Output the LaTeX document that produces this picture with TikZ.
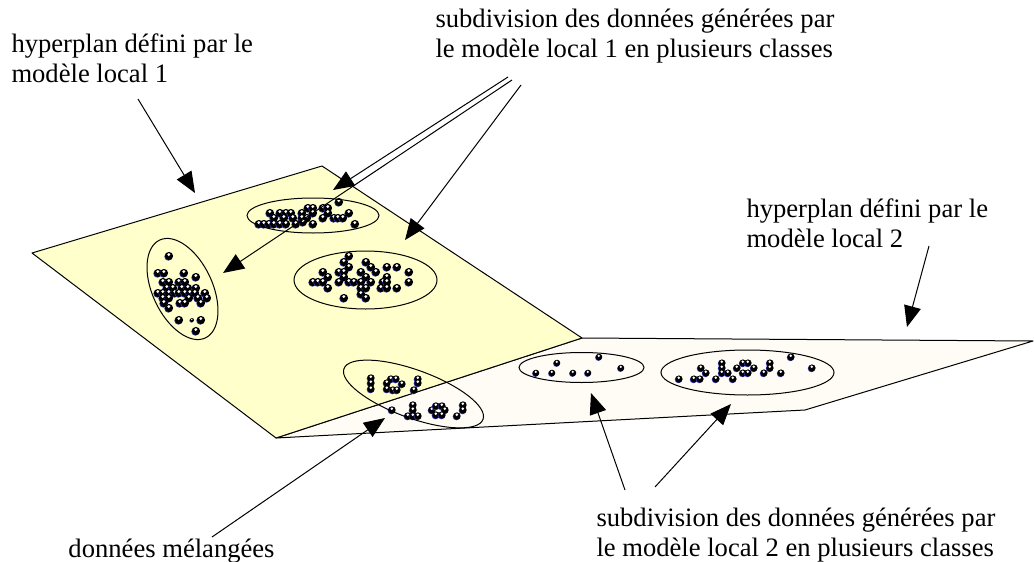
\documentclass[tikz,border=0pt]{standalone}
\usepackage{fontspec}
\setmainfont{Liberation Serif}
\usetikzlibrary{arrows.meta}
\definecolor{planeyellow}{RGB}{255,255,204}
\definecolor{planewhite}{RGB}{255,252,246}
\definecolor{dotfringe}{RGB}{50,50,170}
% one cluster of data points: #1 radius, #2 list of points
\newcommand{\ballcluster}[2]{%
  \foreach \p in {#2} {%
    \fill[dotfringe] \p ++(-0.6,0.6) circle (#1);
    \fill[black] \p circle (#1);
    \fill[white] \p ++(-0.2,-0.35*#1) circle (0.38*#1);
  }}

\begin{document}
\begin{tikzpicture}[x=0.5pt, y=-0.5pt, line width=0.5pt,
    every node/.style={font=\fontsize{13.3}{14.8}\selectfont, inner sep=0pt, align=left},
    plane/.style={draw=black, line join=round},
    cluster/.style={draw=black},
    pointer/.style={-{Triangle[length=10.5pt, width=8.5pt]}}]
      \useasboundingbox (0,0) rectangle (1034,562);
      % plane of local model 2
      \draw[plane, fill=planewhite] (276,438) -- (582,338) -- (1033,341) -- (805,410) -- cycle;
      % plane of local model 1
      \draw[plane, fill=planeyellow] (32,253) -- (322,166) -- (582,338) -- (276,438) -- cycle;
      % classes of local model 1
      \ballcluster{4.1}{(169,256),(158,273),(164,273),(184,273),(196,277),(163,282),(169,282),(179,282),(185,282),
          (167,288),(173,288),(182,288),(188,288),(196,288),(158,293),(163,293),(169,293),(175,293),(179,293),
          (185,293),(190,293),(195,293),(205,293),(163,298),(169,298),(189,298),(198,298),(207,298),(164,303),
          (180,303),(185,303),(201,303),(169,308),(179,320),(201,320),(196,331)}
      \ballcluster{2}{(192,320)}
      \ballcluster{4.1}{(339,202),(308,208),(313,208),(323,208),(328,208),(270,213),(280,213),(286,213),(291,213),
          (302,213),(313,213),(328,213),(349,213),(274,218),(284,218),(293,218),(302,218),(307,218),(323,218),
          (334,218),(338,218),(343,218),(259,224),(264,224),(269,224),(274,224),(280,224),(286,224),(296,224),
          (303,222),(313,224),(355,224)}
      \ballcluster{4.1}{(349,256),(344,262),(366,262),(349,267),(371,267),(387,267),(397,267),(323,272),(339,272),
          (344,272),(361,272),(376,272),(409,272),(328,277),(344,277),(366,277),(387,277),(313,282),(318,282),
          (323,282),(339,282),(349,282),(354,282),(361,282),(371,282),(383,282),(387,282),(409,282),(328,288),
          (361,288),(366,288),(381,288),(387,288),(397,288),(361,294),(344,298),(366,298)}
      \draw[cluster] (182.5,289) ellipse [x radius=54, y radius=30, rotate=-65];
      \draw[cluster] (313,215.5) ellipse [x radius=66, y radius=17.5];
      \draw[cluster] (365.5,280) ellipse [x radius=71.5, y radius=29];
      % mixed data
      \ballcluster{3.7}{(371,378),(371,383),(371,389),(391,379),(396,379),(387,383),(402,384),(387,389),(393,390),
          (397,390),(418,379),(418,383),(414,390),(392,410),(413,405),(413,410),(408,416),(413,416),(418,416),
          (432,410),(436,406),(442,406),(445,410),(436,415),(442,415),(463,405),(463,410),(457,416)}
      \draw[cluster] (413.5,394) ellipse [x radius=74, y radius=24, rotate=-20];
      % classes of local model 2
      \ballcluster{3.3}{(557,363),(599,357),(621,368),(536,373),(552,373),(573,373),(588,373)}
      \ballcluster{3.6}{(679,379),(694,379),(700,379),(716,379),(733,379),(701,368),(706,373),(722,363),(722,368),
          (722,373),(728,373),(737,368),(743,363),(748,363),(743,373),(748,373),(754,368),(764,373),(770,363),
          (770,368),(781,373),(791,357),(812,368)}
      \draw[cluster] (581.5,367.5) ellipse [x radius=62.5, y radius=15];
      \draw[cluster] (747.5,372.5) ellipse [x radius=86.5, y radius=22.5];
      % labels (base = last line)
      \node[anchor=base west] (lblplanA) at (11,82) {hyperplan défini par le\\modèle local 1};
      \node[anchor=base west] (lblclassA) at (435,57) {subdivision des données générées par\\le modèle local 1 en plusieurs classes};
      \node[anchor=base west] (lblplanB) at (746,247) {hyperplan défini par le\\modèle local 2};
      \node[anchor=base west] (lblmix) at (68,557) {données mélangées};
      \node[anchor=base west] (lblclassB) at (596,556) {subdivision des données générées par\\le modèle local 2 en plusieurs classes};
      % arrows
      \coordinate (fromplanA) at (138,99);
      \coordinate (toplanA) at (195,193);
      \coordinate (fromclassA1) at (508,77);
      \coordinate (toclassA1) at (333,190);
      \coordinate (fromclassA2) at (512,80);
      \coordinate (toclassA2) at (223,273);
      \coordinate (fromclassA3) at (521,85);
      \coordinate (toclassA3) at (405,240);
      \coordinate (fromplanB) at (929,246);
      \coordinate (toplanB) at (907,327);
      \coordinate (frommix) at (212,537);
      \coordinate (tomix) at (385,418);
      \coordinate (fromclassB1) at (625,490);
      \coordinate (toclassB1) at (591,393);
      \coordinate (fromclassB2) at (655,487);
      \coordinate (toclassB2) at (731,404);
      \draw[pointer] (fromplanA) -- (toplanA);
      \draw[pointer] (fromclassA1) -- (toclassA1);
      \draw[pointer] (fromclassA2) -- (toclassA2);
      \draw[pointer] (fromclassA3) -- (toclassA3);
      \draw[pointer] (fromplanB) -- (toplanB);
      \draw[pointer] (frommix) -- (tomix);
      \draw[pointer] (fromclassB1) -- (toclassB1);
      \draw[pointer] (fromclassB2) -- (toclassB2);
\end{tikzpicture}
\end{document}
